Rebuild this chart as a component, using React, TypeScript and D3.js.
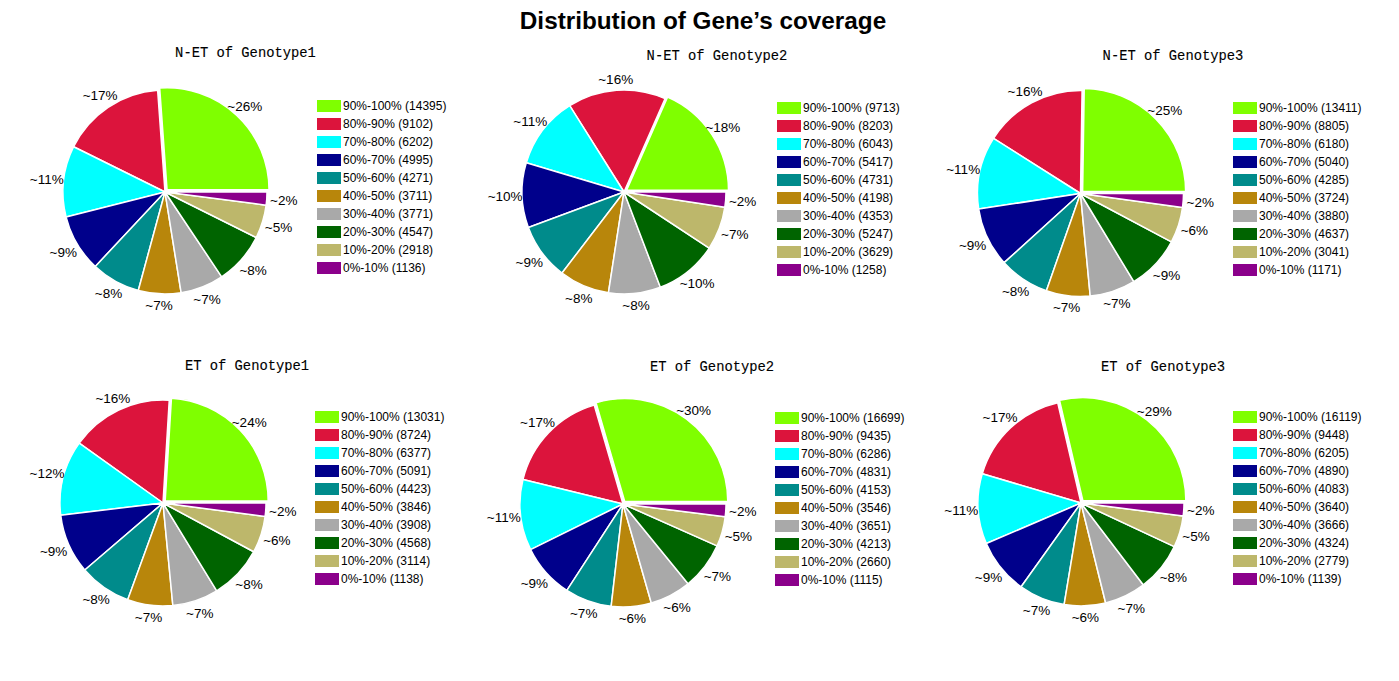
import React from 'react';
import * as d3 from 'd3';

const categories = ['90%-100%', '80%-90%', '70%-80%', '60%-70%', '50%-60%', '40%-50%', '30%-40%', '20%-30%', '10%-20%', '0%-10%'];
const colors = ['#7FFF00', '#DC143C', '#00FFFF', '#00008B', '#008B8B', '#B8860B', '#A9A9A9', '#006400', '#BDB76B', '#8B008B'];

const mainTitle = 'Distribution of Gene\u2019s coverage';
const panelTitles = ['N-ET of Genotype1', 'N-ET of Genotype2', 'N-ET of Genotype3', 'ET of Genotype1', 'ET of Genotype2', 'ET of Genotype3'];

const netG1 = [14395, 9102, 6202, 4995, 4271, 3711, 3771, 4547, 2918, 1136];
const netG2 = [9713, 8203, 6043, 5417, 4731, 4198, 4353, 5247, 3629, 1258];
const netG3 = [13411, 8805, 6180, 5040, 4285, 3724, 3880, 4637, 3041, 1171];
const etG1 = [13031, 8724, 6377, 5091, 4423, 3846, 3908, 4568, 3114, 1138];
const etG2 = [16699, 9435, 6286, 4831, 4153, 3546, 3651, 4213, 2660, 1115];
const etG3 = [16119, 9448, 6205, 4890, 4083, 3640, 3666, 4324, 2779, 1139];

const panelData = [netG1, netG2, netG3, etG1, etG2, etG3];

// layout (positions only)
const layout = [
  { cx: 165, cy: 192, r: 102, tx: 245.5, ty: 52, lx: 317, ly: 100 },
  { cx: 624, cy: 192, r: 102, tx: 717, ty: 55, lx: 777, ly: 102 },
  { cx: 1080.5, cy: 193.5, r: 103, tx: 1173, ty: 55, lx: 1233, ly: 102 },
  { cx: 163, cy: 503, r: 103, tx: 247, ty: 365, lx: 315, ly: 411 },
  { cx: 623, cy: 504, r: 103, tx: 712, ty: 366, lx: 775, ly: 412 },
  { cx: 1081, cy: 503, r: 103, tx: 1163, ty: 366, lx: 1233, ly: 411 },
];

const Panel: React.FC<{ values: number[]; title: string; L: typeof layout[0] }> = ({ values, title, L }) => {
  const pie = d3.pie<number>().sort(null).startAngle(Math.PI / 2).endAngle(Math.PI / 2 - 2 * Math.PI);
  const arcs = pie(values);
  const arc = d3.arc<d3.PieArcDatum<number>>().innerRadius(0).outerRadius(L.r);
  const total = d3.sum(values);
  return (
    <g>
      <text x={L.tx} y={L.ty + 5} textAnchor="middle" fontFamily="'Liberation Mono', monospace" fontSize={13.8} fill="#000" stroke="#000" strokeWidth={0.12}>{title}</text>
      <g transform={`translate(${L.cx},${L.cy})`}>
        {arcs.map((a, i) => {
          const mid = (a.startAngle + a.endAngle) / 2;
          const ex = i === 0 ? 3 : 0;
          const dx = Math.sin(mid) * ex;
          const dy = -Math.cos(mid) * ex;
          return (
            <path key={i} d={arc(a) || ''} fill={colors[i]} stroke="#fff" strokeWidth={1.5} strokeLinejoin="round" transform={`translate(${dx},${dy})`} />
          );
        })}
        {arcs.map((a, i) => {
          const mid = (a.startAngle + a.endAngle) / 2;
          const s = Math.sin(mid);
          const c = -Math.cos(mid);
          const dist = L.r + 11 + 6 * Math.abs(s);
          const pct = Math.round((a.value / total) * 100);
          return (
            <text key={'l' + i} x={s * dist} y={c * dist} dy="0.36em" textAnchor="middle" fontFamily="'Liberation Sans', Arial, sans-serif" fontSize={13.5} fill="#000">{`~${pct}%`}</text>
          );
        })}
      </g>
      <g transform={`translate(${L.lx},${L.ly})`}>
        {values.map((v, i) => (
          <g key={i} transform={`translate(0,${i * 18})`}>
            <rect x={0} y={0} width={24} height={12} fill={colors[i]} />
            <text x={26} y={6} dy="0.36em" fontFamily="'Liberation Sans', Arial, sans-serif" fontSize={12} fill="#000">{`${categories[i]} (${v})`}</text>
          </g>
        ))}
      </g>
    </g>
  );
};

export default function App() {
  return (
    <svg width={1399} height={681} style={{ position: 'absolute', left: 0, top: 0, background: '#fff' }}>
      <rect x={0} y={0} width={1399} height={681} fill="#fff" />
      <text x={703} y={29} textAnchor="middle" fontFamily="'Liberation Sans', Arial, sans-serif" fontWeight="bold" fontSize={24.3} fill="#000">{mainTitle}</text>
      {panelData.map((vals, i) => (
        <Panel key={i} values={vals} title={panelTitles[i]} L={layout[i]} />
      ))}
    </svg>
  );
}
